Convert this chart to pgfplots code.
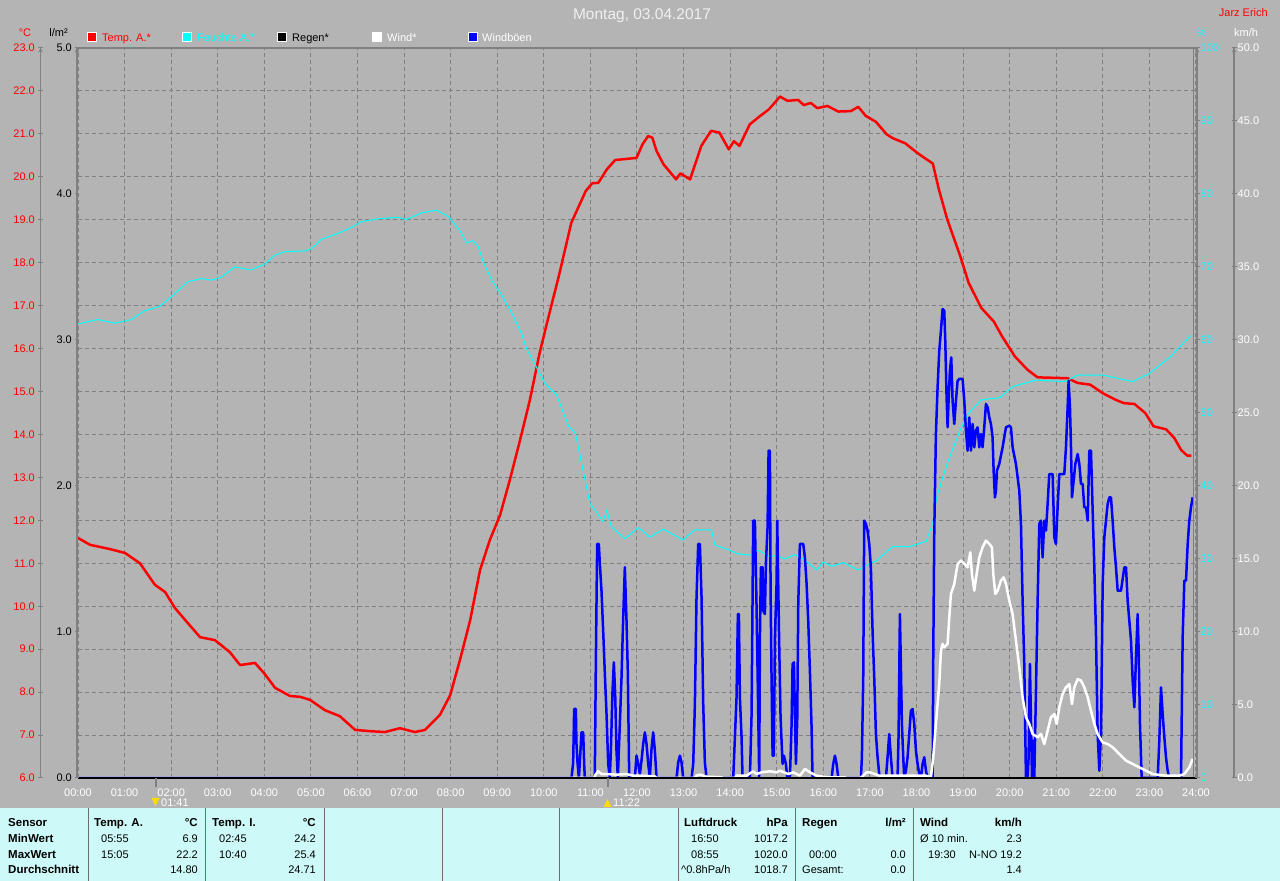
\documentclass[border=0pt]{standalone}
\usepackage{fontspec}
\setmainfont{Liberation Sans}
\usepackage{pgfplots}
\usepackage{pgfplotstable}
\pgfplotsset{compat=1.18}

\definecolor{bgc}{RGB}{180,180,180}
\definecolor{tabc}{RGB}{205,250,248}
\definecolor{gridc}{RGB}{128,128,128}
\definecolor{rulec}{RGB}{128,128,128}
\definecolor{sepc}{RGB}{110,110,110}
\definecolor{ttlc}{RGB}{240,240,240}
\definecolor{cyanc}{RGB}{0,255,255}
\definecolor{bluec}{RGB}{0,0,255}
\definecolor{redc}{RGB}{255,0,0}
\definecolor{yelc}{RGB}{255,220,0}

\newcommand\tf{\fontsize{11}{13}\selectfont}
\newcommand\tabr{\fontsize{11}{13}\selectfont}
\newcommand\tabb{\fontsize{11.5}{13}\selectfont\bfseries}

\pgfplotstableread{
h v
0 11.59
0.26 11.43
0.69 11.33
1.01 11.24
1.33 11.00
1.65 10.50
1.87 10.33
2.08 9.96
2.30 9.68
2.62 9.28
2.94 9.21
3.26 8.93
3.48 8.63
3.80 8.68
4.01 8.42
4.23 8.10
4.55 7.91
4.77 7.89
4.98 7.82
5.30 7.58
5.62 7.44
5.95 7.12
6.27 7.09
6.59 7.07
6.91 7.16
7.23 7.07
7.45 7.12
7.77 7.47
7.99 7.93
8.20 8.75
8.42 9.68
8.63 10.84
8.84 11.54
9.06 12.12
9.27 12.94
9.49 13.87
9.70 14.80
9.91 15.90
10.14 16.91
10.32 17.68
10.59 18.93
10.77 19.36
10.90 19.67
11.04 19.85
11.17 19.86
11.35 20.17
11.53 20.39
11.71 20.41
11.99 20.44
12.12 20.76
12.24 20.95
12.33 20.91
12.42 20.60
12.57 20.29
12.84 19.94
12.93 20.08
13.14 19.94
13.38 20.72
13.59 21.07
13.77 21.03
13.97 20.64
14.08 20.83
14.20 20.72
14.42 21.22
14.60 21.38
14.83 21.57
14.96 21.73
15.07 21.87
15.23 21.77
15.46 21.79
15.58 21.67
15.73 21.72
15.87 21.60
16.09 21.65
16.32 21.52
16.59 21.53
16.75 21.63
16.91 21.42
17.13 21.28
17.36 20.99
17.49 20.90
17.76 20.78
17.99 20.58
18.17 20.44
18.35 20.31
18.48 19.71
18.66 19.01
18.94 18.15
19.12 17.53
19.39 16.95
19.66 16.63
19.84 16.28
20.11 15.82
20.38 15.51
20.60 15.33
21.24 15.31
21.46 15.20
21.73 15.16
22.00 14.96
22.27 14.81
22.45 14.73
22.68 14.71
22.91 14.50
23.09 14.19
23.36 14.12
23.54 13.91
23.68 13.64
23.81 13.51
23.90 13.51
}\temp

\pgfplotstableread{
h v
0 62.2
0.43 62.8
0.79 62.3
1.15 62.8
1.43 64.0
1.75 64.6
2.00 65.9
2.36 68.0
2.65 68.4
2.86 68.2
3.08 68.6
3.36 70.0
3.72 69.6
4.01 70.4
4.22 71.6
4.44 72.1
4.87 72.2
5.01 72.5
5.23 73.8
5.58 74.6
5.87 75.4
6.08 76.2
6.44 76.6
6.87 76.8
7.05 76.5
7.37 77.4
7.69 77.8
7.95 76.9
8.20 75.0
8.34 73.3
8.48 73.6
8.59 72.8
8.70 70.7
8.88 68.2
9.09 66.2
9.31 63.7
9.52 60.9
9.63 58.8
9.84 56.3
10.02 54.1
10.27 52.5
10.54 48.1
10.68 47.2
10.81 43.1
10.99 37.6
11.10 36.7
11.27 35.1
11.35 36.7
11.45 34.4
11.74 32.8
12.03 34.3
12.28 33.0
12.56 34.1
12.99 32.6
13.24 34.0
13.60 34.0
13.67 31.9
13.99 31.2
14.17 30.7
14.50 30.5
14.60 31.2
14.85 30.3
14.99 30.5
15.17 30.0
15.39 30.6
15.57 30.0
15.86 28.5
16.00 29.6
16.18 29.0
16.43 29.5
16.75 28.5
17.00 29.4
17.13 29.7
17.49 31.7
17.85 31.7
18.21 32.4
18.35 34.9
18.44 38.6
18.66 43.1
18.94 47.7
19.12 50.0
19.39 51.8
19.79 52.1
20.06 53.6
20.56 54.5
21.19 54.3
21.46 55.2
22.00 55.2
22.64 54.3
23.00 55.4
23.45 57.7
23.72 59.5
23.90 60.7
}\hum

\pgfplotstableread{
h v
0 0
10.558 0
10.594 0
10.630 1.07
10.651 4.73
10.687 4.73
10.701 2.33
10.723 1.07
10.752 0
10.773 1.07
10.809 3.13
10.845 3.13
10.866 0.96
10.880 0
11.081 0
11.095 0.27
11.117 8.04
11.145 16.03
11.181 16.03
11.203 14.66
11.238 12.83
11.274 10.09
11.310 7.12
11.346 4.38
11.382 0.96
11.417 0
11.439 1.87
11.475 5.98
11.503 7.92
11.532 5.75
11.560 1.87
11.589 0
11.632 3.70
11.668 6.89
11.704 11.00
11.739 14.43
11.775 10.78
11.804 7.12
11.833 0
11.954 0
11.990 1.53
12.026 0.96
12.062 0.27
12.097 1.19
12.133 2.33
12.169 3.13
12.205 2.33
12.241 0.96
12.276 0.05
12.312 1.99
12.348 3.13
12.384 1.87
12.420 0
12.849 0
12.885 1.07
12.921 1.53
12.956 1.07
12.992 0
13.171 0
13.207 0.96
13.243 5.07
13.278 12.37
13.314 16.03
13.350 16.03
13.386 12.37
13.422 5.07
13.457 1.07
13.493 0
14.066 0
14.102 2.79
14.137 5.53
14.166 11.23
14.188 11.23
14.209 5.53
14.245 2.79
14.266 0
14.424 0
14.460 4.38
14.495 17.63
14.531 17.63
14.567 11.69
14.603 4.38
14.624 0
14.639 9.63
14.660 14.43
14.696 14.43
14.710 11.46
14.746 11.23
14.767 14.66
14.803 17.17
14.825 22.42
14.853 22.42
14.868 12.83
14.889 6.78
14.911 1.53
14.939 1.53
14.961 9.63
14.996 13.29
15.011 17.63
15.032 13.29
15.054 8.95
15.082 4.16
15.125 0.96
15.154 1.53
15.197 0.96
15.226 0
15.283 0
15.319 3.70
15.340 7.81
15.369 7.92
15.390 4.38
15.412 0.96
15.440 3.93
15.462 11.92
15.497 16.03
15.569 16.03
15.605 15.11
15.641 13.29
15.676 10.78
15.712 7.35
15.748 3.47
15.769 0
16.178 0
16.213 0.96
16.249 1.53
16.285 0.96
16.321 0
16.807 0
16.828 1.42
16.857 6.89
16.878 17.63
16.914 17.40
16.950 16.94
16.986 16.03
17.021 14.43
17.057 10.09
17.093 6.89
17.129 3.01
17.165 1.42
17.200 0.27
17.236 0
17.344 0
17.379 1.42
17.415 3.01
17.451 1.42
17.487 0
17.594 0
17.616 3.01
17.644 11.23
17.666 7.58
17.687 3.70
17.716 1.42
17.737 0
17.773 0.50
17.809 1.42
17.845 3.01
17.880 4.61
17.916 4.73
17.952 3.70
17.988 1.87
18.024 0.96
18.059 0.27
18.095 0
18.131 0.96
18.167 1.42
18.203 0.50
18.238 0
18.346 0
18.360 8.26
18.382 16.94
18.417 23.56
18.453 26.76
18.489 29.27
18.525 30.64
18.560 32.12
18.596 32.01
18.618 29.95
18.646 26.07
18.668 24.02
18.689 25.84
18.718 27.90
18.747 28.81
18.775 25.84
18.811 24.25
18.847 25.84
18.883 27.21
18.918 27.33
18.990 27.33
19.026 25.84
19.062 23.79
19.097 22.42
19.133 24.70
19.169 22.42
19.205 24.25
19.241 22.65
19.276 23.79
19.312 24.02
19.348 22.65
19.384 23.56
19.419 22.65
19.455 24.02
19.491 25.62
19.527 25.39
19.563 24.70
19.598 24.25
19.634 23.33
19.656 21.05
19.684 19.22
19.706 19.68
19.727 21.05
19.777 21.51
19.849 22.65
19.921 24.02
19.992 24.13
20.028 24.02
20.064 22.65
20.135 21.51
20.207 19.68
20.243 17.40
20.278 12.15
20.314 7.81
20.350 0
20.386 0
20.407 1.42
20.436 7.81
20.479 0
20.508 2.56
20.529 0
20.565 5.98
20.601 12.15
20.636 17.40
20.672 17.63
20.708 15.11
20.744 17.63
20.780 16.94
20.815 18.77
20.851 20.82
20.923 20.82
20.959 16.48
20.994 16.03
21.030 18.54
21.066 20.82
21.173 20.82
21.209 22.65
21.245 25.39
21.266 27.21
21.295 25.39
21.317 22.65
21.338 19.22
21.367 20.14
21.410 21.51
21.460 22.19
21.496 21.51
21.531 20.14
21.567 20.14
21.603 18.54
21.639 18.54
21.675 17.63
21.710 22.42
21.746 22.42
21.782 18.31
21.818 14.43
21.853 9.86
21.889 3.01
21.925 0.50
21.961 3.01
21.997 13.29
22.032 16.48
22.068 17.63
22.104 18.77
22.140 19.22
22.175 19.22
22.211 17.63
22.247 15.80
22.283 14.43
22.319 12.83
22.390 12.83
22.462 14.43
22.498 14.43
22.533 12.15
22.569 10.78
22.605 9.41
22.641 6.67
22.677 4.84
22.712 8.26
22.748 11.23
22.770 8.72
22.798 3.70
22.834 0
23.178 0
23.213 2.56
23.249 6.21
23.285 4.38
23.321 2.79
23.356 1.42
23.392 0.50
23.428 0
23.679 0
23.714 9.63
23.750 13.52
23.786 13.52
23.822 16.03
23.857 17.63
23.893 18.54
23.929 19.22
}\gust

\pgfplotstableread{
h v
0 0
11.08 0
11.095 0.16
11.167 0.46
11.238 0.27
11.346 0.27
11.56 0.23
11.775 0.27
11.918 0.16
12.062 0.16
12.384 0.11
12.42 0
13.243 0
13.278 0.16
13.350 0.23
13.493 0.09
13.815 0.05
13.85 0
14.102 0
14.137 0.16
14.352 0.16
14.495 0.46
14.567 0.27
14.674 0.39
14.853 0.46
14.996 0.39
15.068 0.50
15.247 0.27
15.354 0.39
15.497 0.16
15.605 0.62
15.712 0.39
15.855 0.16
16.07 0.05
16.464 0.05
16.5 0
16.786 0
16.858 0.16
16.929 0.39
17.0 0.39
17.200 0.16
17.630 0.16
18.203 0.16
18.31 0.05
18.360 1.42
18.417 3.70
18.489 6.44
18.525 8.72
18.560 9.18
18.596 8.95
18.668 9.18
18.704 11.00
18.739 12.60
18.811 13.29
18.883 14.66
18.954 14.89
19.026 14.66
19.097 14.43
19.155 15.46
19.190 13.97
19.241 12.83
19.291 13.97
19.348 15.11
19.419 15.80
19.491 16.26
19.563 16.03
19.620 15.80
19.649 13.97
19.692 12.60
19.742 12.83
19.813 13.52
19.871 13.74
19.921 13.29
19.992 12.15
20.064 11.23
20.135 9.41
20.207 7.58
20.278 5.53
20.350 4.16
20.422 3.70
20.493 3.01
20.601 2.79
20.672 3.01
20.744 2.33
20.815 3.24
20.887 4.16
20.959 4.38
21.009 3.70
21.066 4.84
21.137 5.75
21.209 6.21
21.281 6.44
21.338 5.07
21.388 6.21
21.460 6.78
21.531 6.67
21.603 6.21
21.675 5.53
21.746 4.61
21.818 3.70
21.889 3.01
21.997 2.44
22.104 2.33
22.211 2.10
22.354 1.64
22.498 1.19
22.641 0.96
22.784 0.73
22.927 0.50
23.070 0.27
23.356 0.16
23.643 0.16
23.750 0.27
23.857 0.73
23.929 1.30
}\wind

\pgfplotsset{
  plotarea/.style={at={(78pt,103pt)}, anchor=south west, scale only axis,
    width=1118pt, height=730pt, xmin=0, xmax=24},
  ruler/.style={scale only axis, width=1pt, height=730pt, xmin=0, xmax=1,
    anchor=south west, axis x line=none, tick align=outside,
    major tick length=5pt, minor tick num=0,
    tick style={draw=rulec, line width=1pt},
    y axis line style={-, draw=rulec, line width=1pt},
    every outer y axis line/.append style={-},
    yticklabel style={font=\tf, inner sep=1pt}},
}

\begin{document}
\begin{tikzpicture}[x=1pt,y=1pt]
\useasboundingbox (0,0) rectangle (1280,881);
\fill[bgc] (0,0) rectangle (1280,881);
\fill[tabc] (0,0) rectangle (1280,73);
\foreach \xx in {88.5,205,324,442,559.5,678,795.5,913.5}
  \draw[sepc, line width=1pt] (\xx,0) -- (\xx,73);

% temperature axis with grid
\begin{axis}[plotarea, ymin=6, ymax=23,
  xtick={0,...,24},
  xticklabels={00:00,01:00,02:00,03:00,04:00,05:00,06:00,07:00,08:00,09:00,10:00,11:00,12:00,13:00,14:00,15:00,16:00,17:00,18:00,19:00,20:00,21:00,22:00,23:00,24:00},
  ytick={6,...,23}, yticklabels={},
  grid=major, major grid style={gridc, line width=1pt, dash pattern=on 4pt off 3pt},
  axis line style={draw=none}, major tick length=0pt,
  xticklabel style={white, font=\tf, anchor=base, yshift=-19pt}]
\addplot[redc, line width=2.5pt, line join=round] table[x=h,y=v] {\temp};
\end{axis}

% humidity
\begin{axis}[plotarea, ymin=0, ymax=100, hide axis]
\addplot[cyanc, line width=1pt, line join=round] table[x=h,y=v] {\hum};
\end{axis}

% wind
\begin{axis}[plotarea, ymin=0, ymax=50, hide axis]
\addplot[bluec, line width=2.5pt, line join=round] table[x=h,y=v] {\gust};
\addplot[white, line width=2.5pt, line join=round] table[x=h,y=v] {\wind};
\end{axis}

% borders and ruler lines
\draw[rulec, line width=2pt] (77,103) -- (77,834);
\draw[rulec, line width=2pt] (76,833) -- (1198,833);
\draw[rulec, line width=1pt] (1193.5,103) -- (1193.5,833);
\draw[rulec, line width=2pt] (1197,103) -- (1197,834);
\draw[black, line width=1.5pt] (78,103) -- (1197,103);
\draw[rulec, line width=1.2pt] (40.5,103) -- (40.5,833);
\draw[rulec, line width=1.2pt] (1234,103) -- (1234,833);

% rulers
\begin{axis}[ruler, at={(40.5pt,103pt)}, axis y line=left, ymin=6, ymax=23,
  ytick={6,...,23},
  yticklabels={6.0,7.0,8.0,9.0,10.0,11.0,12.0,13.0,14.0,15.0,16.0,17.0,18.0,19.0,20.0,21.0,22.0,23.0},
  yticklabel style={redc, xshift=-2pt}]
\end{axis}
\begin{axis}[ruler, at={(77pt,103pt)}, axis y line=left, ymin=0, ymax=5,
  ytick={0,...,5}, yticklabels={0.0,1.0,2.0,3.0,4.0,5.0},
  yticklabel style={black, xshift=-1.5pt}]
\end{axis}
\begin{axis}[ruler, at={(1196pt,103pt)}, axis y line=right, ymin=0, ymax=100,
  ytick={0,10,...,100}, yticklabels={0,10,20,30,40,50,60,70,80,90,100},
  yticklabel style={cyanc}]
\end{axis}
\begin{axis}[ruler, at={(1233pt,103pt)}, axis y line=right, ymin=0, ymax=50,
  ytick={0,5,...,50}, yticklabels={0.0,5.0,10.0,15.0,20.0,25.0,30.0,35.0,40.0,45.0,50.0},
  yticklabel style={white}]
\end{axis}

% unit labels
\node[redc, font=\tf, anchor=base] at (25,844) {°C};
\node[black, font=\tf, anchor=base] at (58.5,844) {l/m²};
\node[cyanc, font=\tf, anchor=base] at (1201.5,844) {\%};
\node[white, font=\tf, anchor=base west, inner sep=0] at (1234,844) {km/h};
\node[redc, font=\tf, anchor=base east, inner sep=0] at (1268,864) {Jarz Erich};
\node[ttlc, font=\fontsize{15.5}{17}\selectfont, anchor=base] at (642,861) {Montag, 03.04.2017};

% legend
\draw[white, fill=redc, line width=1pt] (87.5,839) rectangle (96.5,848);
\node[redc, font=\tf, anchor=base west, inner sep=0] at (102,839.5) {Temp. A.*};
\draw[white, fill=cyanc, line width=1pt] (182.5,839) rectangle (191.5,848);
\node[cyanc, font=\tf, anchor=base west, inner sep=0] at (197,839.5) {Feuchte A.*};
\draw[white, fill=black, line width=1pt] (277.5,839) rectangle (286.5,848);
\node[black, font=\tf, anchor=base west, inner sep=0] at (292,839.5) {Regen*};
\draw[white, fill=white, line width=1pt] (372.5,839) rectangle (381.5,848);
\node[white, font=\tf, anchor=base west, inner sep=0] at (387,839.5) {Wind*};
\draw[white, fill=bluec, line width=1pt] (468.5,839) rectangle (477.5,848);
\node[white, font=\tf, anchor=base west, inner sep=0] at (482,839.5) {Windböen};

% min/max time markers
\draw[rulec, line width=2pt] (155.5,103) -- (155.5,94);
\fill[yelc] (151.5,83) -- (159.5,83) -- (155.5,75) -- cycle;
\node[white, font=\tf, anchor=base west, inner sep=0] at (161,74) {01:41};
\draw[rulec, line width=2pt] (607.5,103) -- (607.5,94);
\fill[yelc] (603.5,74) -- (611.5,74) -- (607.5,82) -- cycle;
\node[white, font=\tf, anchor=base west, inner sep=0] at (613,74) {11:22};

% table
\begin{scope}[every node/.style={inner sep=0, text=black}]
\node[font=\tabb, anchor=base west] at (8,54) {Sensor};
\node[font=\tabb, anchor=base west] at (8,38) {MinWert};
\node[font=\tabb, anchor=base west] at (8,22) {MaxWert};
\node[font=\tabb, anchor=base west] at (8,7) {Durchschnitt};

\node[font=\tabb, anchor=base west] at (94,54) {Temp. A.};
\node[font=\tabb, anchor=base east] at (198,54) {°C};
\node[font=\tabr, anchor=base west] at (101,38) {05:55};
\node[font=\tabr, anchor=base east] at (198,38) {6.9};
\node[font=\tabr, anchor=base west] at (101,22) {15:05};
\node[font=\tabr, anchor=base east] at (198,22) {22.2};
\node[font=\tabr, anchor=base east] at (198,7) {14.80};

\node[font=\tabb, anchor=base west] at (212,54) {Temp. I.};
\node[font=\tabb, anchor=base east] at (316,54) {°C};
\node[font=\tabr, anchor=base west] at (219,38) {02:45};
\node[font=\tabr, anchor=base east] at (316,38) {24.2};
\node[font=\tabr, anchor=base west] at (219,22) {10:40};
\node[font=\tabr, anchor=base east] at (316,22) {25.4};
\node[font=\tabr, anchor=base east] at (316,7) {24.71};

\node[font=\tabb, anchor=base west] at (684,54) {Luftdruck};
\node[font=\tabb, anchor=base east] at (788,54) {hPa};
\node[font=\tabr, anchor=base west] at (691,38) {16:50};
\node[font=\tabr, anchor=base east] at (788,38) {1017.2};
\node[font=\tabr, anchor=base west] at (691,22) {08:55};
\node[font=\tabr, anchor=base east] at (788,22) {1020.0};
\node[font=\tabr, anchor=base west] at (681,7) {\textasciicircum 0.8hPa/h};
\node[font=\tabr, anchor=base east] at (788,7) {1018.7};

\node[font=\tabb, anchor=base west] at (802,54) {Regen};
\node[font=\tabb, anchor=base east] at (906,54) {l/m²};
\node[font=\tabr, anchor=base west] at (809,22) {00:00};
\node[font=\tabr, anchor=base east] at (906,22) {0.0};
\node[font=\tabr, anchor=base west] at (802,7) {Gesamt:};
\node[font=\tabr, anchor=base east] at (906,7) {0.0};

\node[font=\tabb, anchor=base west] at (920,54) {Wind};
\node[font=\tabb, anchor=base east] at (1022,54) {km/h};
\node[font=\tabr, anchor=base west] at (920,38) {Ø 10 min.};
\node[font=\tabr, anchor=base east] at (1022,38) {2.3};
\node[font=\tabr, anchor=base west] at (928,22) {19:30};
\node[font=\tabr, anchor=base east] at (1022,22) {N-NO 19.2};
\node[font=\tabr, anchor=base east] at (1022,7) {1.4};
\end{scope}
\end{tikzpicture}
\end{document}
